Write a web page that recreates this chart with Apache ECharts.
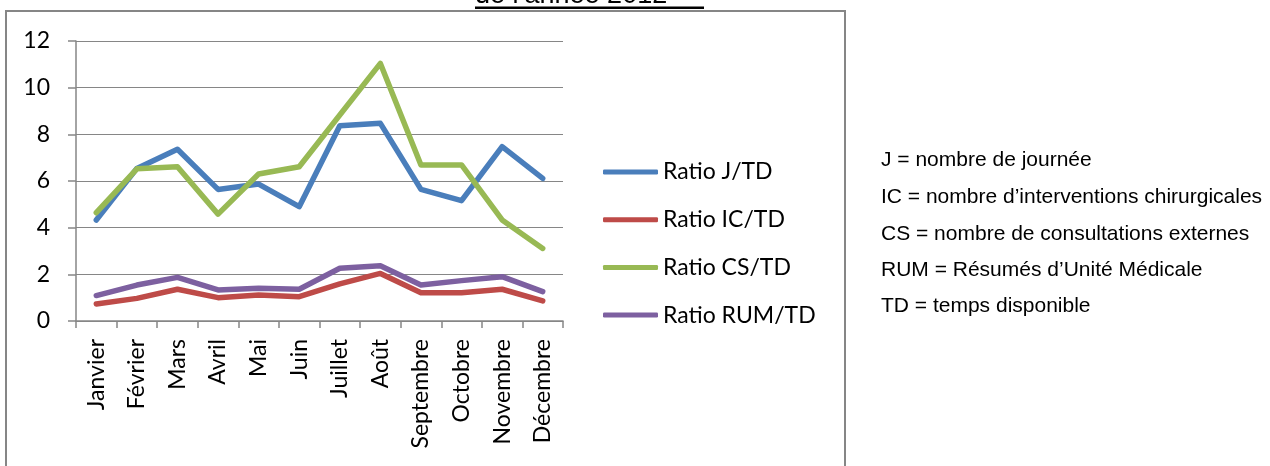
<!DOCTYPE html>
<html>
<head>
<meta charset="utf-8">
<script src="https://cdn.jsdelivr.net/npm/echarts@6/dist/echarts.min.js"></script>
<style>
html,body{margin:0;padding:0;background:#fff;}
#c{width:1270px;height:466px;}
</style>
</head>
<body>
<div id="c"></div>
<script>
var months = ['Janvier','Février','Mars','Avril','Mai','Juin','Juillet','Août','Septembre','Octobre','Novembre','Décembre'];
var ratioJ   = [4.33, 6.54, 7.36, 5.64, 5.87, 4.90, 8.37, 8.47, 5.64, 5.16, 7.47, 6.11];
var ratioIC  = [0.73, 0.97, 1.36, 1.00, 1.11, 1.04, 1.59, 2.04, 1.21, 1.21, 1.36, 0.86];
var ratioCS  = [4.64, 6.52, 6.61, 4.58, 6.30, 6.61, 8.83, 11.04, 6.69, 6.69, 4.33, 3.11];
var ratioRUM = [1.09, 1.54, 1.87, 1.33, 1.40, 1.36, 2.26, 2.37, 1.54, 1.73, 1.90, 1.26];
var seriesNames = ['Ratio J/TD','Ratio IC/TD','Ratio CS/TD','Ratio RUM/TD'];
var yTicks = [0, 12, 2];
var notes = ['J = nombre de journée','IC = nombre d’interventions chirurgicales','CS = nombre de consultations externes','RUM = Résumés d’Unité Médicale','TD = temps disponible'];
var titleText = 'de l’année 2012 ';

var colors = ['#4A7EBB','#BE4B48','#98B954','#7D60A0'];
var lab = 'Lato, "Open Sans", sans-serif';
var gray = '#868686';

var chart = echarts.init(document.getElementById('c'));
function mk(name, data, i){
  return {name:name, type:'line', data:data, symbol:'none', smooth:false,
    lineStyle:{width:5.5, color:colors[i], cap:'round', join:'round'}, itemStyle:{color:colors[i]}, z: 3};
}
var graphics = [
  {type:'rect', shape:{x:6, y:11, width:839, height:480}, style:{fill:'none', stroke:gray, lineWidth:2}, z:0},
  {type:'text', x:475, y:9, style:{text:titleText, font:'27px "Liberation Sans", Arial, sans-serif', fill:'#000', verticalAlign:'bottom', align:'left'}},
  {type:'rect', shape:{x:475, y:6.5, width:229, height:2.5}, style:{fill:'#000'}}
];
var noteY = [160.5, 197, 234, 270, 306];
notes.forEach(function(t, i){
  graphics.push({type:'text', x:881, y:noteY[i], style:{text:t, font:'21px "Liberation Sans", Arial, sans-serif', fill:'#000', verticalAlign:'middle', align:'left'}});
});

chart.setOption({
  animation:false,
  backgroundColor:'#fff',
  grid:{left:76, right:707, top:41, bottom:145, containLabel:false},
  legend:{
    orient:'vertical', left:603, top:160, padding:0, icon:'roundRect', itemWidth:55, itemHeight:5,
    itemGap:23.7, data:seriesNames,
    textStyle:{fontFamily:lab, fontSize:23, color:'#000', lineHeight:24}
  },
  xAxis:{
    type:'category', data:months, boundaryGap:true,
    axisLine:{lineStyle:{color:gray, width:1.5}},
    axisTick:{show:true, length:7, interval:0, lineStyle:{color:gray, width:1.5}},
    axisLabel:{rotate:90, interval:0, margin:18, fontFamily:lab, fontSize:23, color:'#000'}
  },
  yAxis:{
    type:'value', min:yTicks[0], max:yTicks[1], interval:yTicks[2],
    axisLine:{show:true, lineStyle:{color:gray, width:1.5}},
    axisTick:{show:true, length:8, lineStyle:{color:gray, width:1.5}},
    splitLine:{show:true, lineStyle:{color:gray, width:1.2}},
    axisLabel:{margin:26, fontFamily:lab, fontSize:23, color:'#000'}
  },
  series:[mk(seriesNames[0], ratioJ, 0), mk(seriesNames[1], ratioIC, 1), mk(seriesNames[2], ratioCS, 2), mk(seriesNames[3], ratioRUM, 3)],
  graphic:graphics
});
</script>
</body>
</html>
